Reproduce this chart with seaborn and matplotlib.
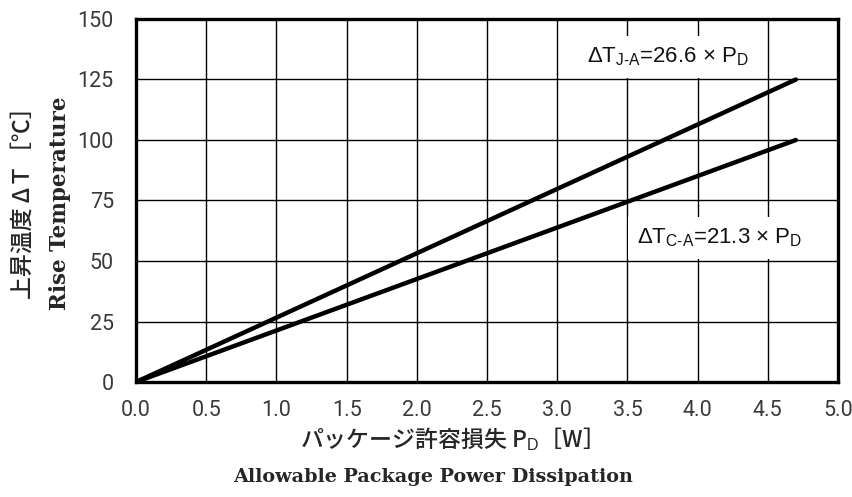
import matplotlib
matplotlib.use("Agg")
import matplotlib.pyplot as plt
import seaborn as sns
import pandas as pd

# data
power_w = [0.0, 4.7]
rise_ja = [0.0, 125.0]
rise_ca = [0.0, 100.0]
x_ticks = [0.0, 0.5, 1.0, 1.5, 2.0, 2.5, 3.0, 3.5, 4.0, 4.5, 5.0]
y_ticks = [0, 25, 50, 75, 100, 125, 150]
label_ja = r"ΔT$_{\rm J\text{-}A}$=26.6 × P$_{\rm D}$"
label_ca = r"ΔT$_{\rm C\text{-}A}$=21.3 × P$_{\rm D}$"

sns.set_theme(style="white")
plt.rcParams["font.family"] = ["Liberation Sans", "Noto Sans CJK JP", "DejaVu Sans"]
plt.rcParams["mathtext.fontset"] = "custom"
plt.rcParams["mathtext.rm"] = "Liberation Sans"
plt.rcParams["mathtext.it"] = "Liberation Sans"

df = pd.DataFrame({
    "P": power_w * 2,
    "T": rise_ja + rise_ca,
    "s": ["ja"] * len(power_w) + ["ca"] * len(power_w),
})

fig = plt.figure(figsize=(8.52, 4.97), dpi=100)
ax = fig.add_axes([136 / 852, 1 - 382 / 497, (838 - 136) / 852, (382 - 19) / 497])

ax.set_xlim(0, 5)
ax.set_ylim(0, 150)
ax.set_xticks(x_ticks)
ax.set_yticks(y_ticks)
ax.set_xticklabels([f"{v:.1f}" for v in x_ticks], family=["Roboto", "DejaVu Sans"])
ax.set_yticklabels([str(v) for v in y_ticks], family=["Roboto", "DejaVu Sans"])
ax.grid(True, color="black", linewidth=1.0)
ax.set_axisbelow(True)
for sp in ax.spines.values():
    sp.set_color("black")
    sp.set_linewidth(2.4)
    sp.set_zorder(5)
ax.tick_params(axis="both", length=0, labelsize=15.5, colors="#3a3a3a")
ax.tick_params(axis="x", pad=13)
ax.tick_params(axis="y", pad=16)

sns.lineplot(data=df, x="P", y="T", units="s", estimator=None, color="black",
             linewidth=3.2, ax=ax, legend=False, zorder=3)
ax.set_xlabel("")
ax.set_ylabel("")

bbox = dict(facecolor="white", edgecolor="none", pad=7)
ax.text(3.79, 134.3, label_ja, fontsize=16, ha="center", va="center", bbox=bbox,
        zorder=4, color="#111111")
ax.text(4.16, 59.5, label_ca, fontsize=16, ha="center", va="center", bbox=bbox,
        zorder=4, color="#111111")

# axis titles
fig.text(445 / 852, 1 - 439 / 497, r"パッケージ許容損失 P$_{\rm D}$［W］",
         ha="center", va="center", fontsize=16.5, fontweight="medium",
         family=["Noto Sans CJK JP", "DejaVu Sans"])
fig.text(433 / 852, 1 - 477 / 497, "Allowable Package Power Dissipation",
         ha="center", va="center", fontsize=13.8, fontweight="bold",
         family=["DejaVu Serif"])
fig.text(23 / 852, 1 - 197 / 497, "上昇温度 ΔＴ［℃］", rotation=90,
         ha="center", va="center", fontsize=16.5, fontweight="medium",
         family=["Noto Sans CJK JP", "DejaVu Sans"])
fig.text(60 / 852, 1 - 203 / 497, "Rise Temperature", rotation=90,
         ha="center", va="center", fontsize=15.5, fontweight="bold",
         family=["DejaVu Serif"])

fig.savefig("out.png", dpi=100)
